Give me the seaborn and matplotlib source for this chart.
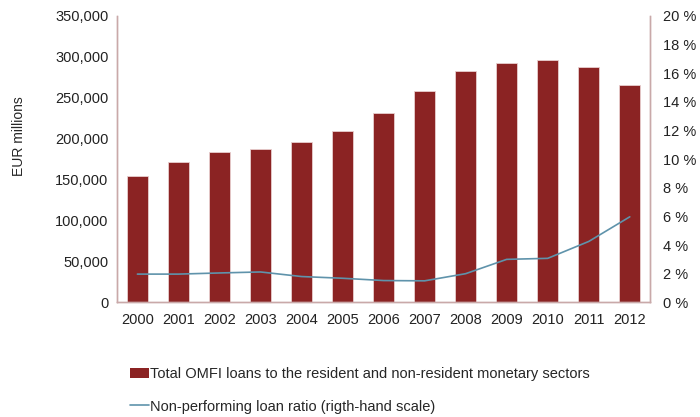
import numpy as np
import pandas as pd
import seaborn as sns
import matplotlib.pyplot as plt
from matplotlib.patches import Patch
from matplotlib.lines import Line2D
from matplotlib.ticker import FuncFormatter

years = ["2000", "2001", "2002", "2003", "2004", "2005", "2006",
         "2007", "2008", "2009", "2010", "2011", "2012"]
loans = [154000, 171500, 184000, 187000, 195500, 209500, 231000,
         258000, 282500, 292000, 296500, 287500, 265500]
npl_ratio = [1.97, 1.97, 2.05, 2.12, 1.8, 1.68, 1.52,
             1.5, 2.0, 3.0, 3.07, 4.25, 5.97]

bar_color = "#8B2323"
line_color = "#5F93AB"
spine_color = "#C9A9A9"

sns.set_theme(style="white")
plt.rcParams["font.family"] = ["Liberation Sans", "DejaVu Sans"]

df = pd.DataFrame({"year": years, "loans": loans, "npl": npl_ratio})

fig = plt.figure(figsize=(7, 4.17), dpi=100)
ax = fig.add_axes([0.167, 0.275, 0.762, 0.687])

sns.barplot(data=df, x="year", y="loans", color=bar_color, width=0.52,
            saturation=1, edgecolor="#E8CFCF", linewidth=0.6, ax=ax)
ax.set_ylim(0, 350000)
ax.set_xlim(-0.5, len(years) - 0.5)
ax.set_yticks(np.arange(0, 350001, 50000))
ax.yaxis.set_major_formatter(FuncFormatter(lambda v, p: f"{int(v):,}"))
ax.set_xlabel("")
ax.set_ylabel("EUR millions", fontsize=10)
ax.yaxis.set_label_coords(-0.17, 0.58)
ax.tick_params(axis="y", labelsize=10.5, length=0, pad=6, colors="#222222")
ax.tick_params(axis="x", labelsize=10.5, length=0, pad=8, colors="#222222")

ax2 = ax.twinx()
sns.lineplot(x=np.arange(len(years)), y=df["npl"], color=line_color,
             linewidth=1.2, ax=ax2)
ax2.set_ylim(0, 20)
ax2.set_yticks(np.arange(0, 21, 2))
ax2.yaxis.set_major_formatter(FuncFormatter(lambda v, p: f"{int(v)} %"))
ax2.set_ylabel("")
ax2.tick_params(axis="y", labelsize=10.5, length=0, pad=9, colors="#222222")

for a in (ax, ax2):
    a.spines["top"].set_visible(False)
    for side in ("left", "bottom", "right"):
        a.spines[side].set_color(spine_color)
        a.spines[side].set_linewidth(1)

handles = [Patch(facecolor=bar_color, edgecolor="none"),
           Line2D([0], [0], color=line_color, linewidth=1.2)]
labels = ["Total OMFI loans to the resident and non-resident monetary sectors",
          "Non-performing loan ratio (rigth-hand scale)"]
fig.legend(handles, labels, loc="upper left", bbox_to_anchor=(0.178, 0.133),
           frameon=False, fontsize=10.5, handlelength=1.3, handletextpad=0.05,
           labelspacing=1.25, borderaxespad=0)

fig.savefig("out.png", dpi=100)
